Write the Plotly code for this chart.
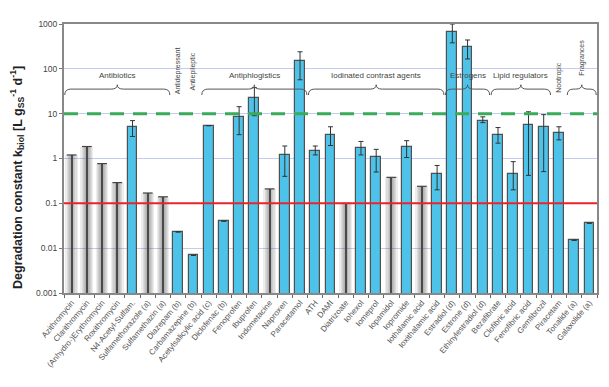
import plotly.graph_objects as go

categories = ["Azithromycin", "Clarithromycin", "(Anhydro-)Erythromycin", "Roxithromycin",
              "N4-Acetyl-Sulfam.", "Sulfamethoxazole (a)", "Sulfamethazin (a)", "Diazepam (b)",
              "Carbamazepine (b)", "Acetylsalicylic acid (c)", "Diclofenac (b)", "Fenoprofen",
              "Ibuprofen", "Indometacine", "Naproxen", "Paracetamol", "ATH", "DAMI",
              "Diatrizoate", "Iohexol", "Iomeprol", "Iopamidol", "Iopromide", "Iothalamic acid",
              "Ioxithalamic acid", "Estradiol (d)", "Estrone (d)", "Ethinylestradiol (d)",
              "Bezafibrate", "Clofibric acid", "Fenofibric acid", "Gemfibrozil", "Piracetam",
              "Tonalide (a)", "Galaxolide (a)"]

# measured values (None = not measured / upper limit only)
k_biol = [None, None, None, None, 5.1, None, None, 0.023,
          0.0069, 5.4, 0.04, 8.6,
          22.7, None, 1.17, 150, 1.5, 3.4,
          None, 1.75, 1.1, None, 1.85, None,
          0.46, 660, 310, 7.0,
          3.4, 0.46, 5.7, 5.1, 3.8,
          0.015, 0.036]
err_high = [None, None, None, None, 7.0, None, None, None,
            None, None, None, 14.3,
            38, None, 1.9, 240, 1.9, 5.1,
            None, 2.4, 1.6, None, 2.5, None,
            0.7, 1000, 440, 8.5,
            4.9, 0.85, 11, 9.5, 5.1,
            None, None]
err_low = [None, None, None, None, 3.1, None, None, None,
           None, None, None, 3.4,
           9.0, None, 0.4, 57, 1.2, 1.95,
           None, 1.2, 0.5, None, 1.05, None,
           0.2, 380, 166, 6.3,
           2.2, 0.2, 0.42, 0.51, 2.6,
           None, None]
# upper limits (shaded grey)
k_upper = [1.2, 1.85, 0.77, 0.29, None, 0.17, 0.14, None,
           None, None, None, None,
           None, 0.21, None, None, None, None,
           0.1, None, None, 0.38, None, 0.24,
           None, None, None, None,
           None, None, None, None, None,
           None, None]

y_ticks = [0.001, 0.01, 0.1, 1, 10, 100, 1000]
y_tick_labels = ["0.001", "0.01", "0.1", "1", "10", "100", "1000"]

threshold_low = 0.1
threshold_high = 10

groups = [("Antibiotics", 0, 6), ("Antiphlogistics", 9, 15),
          ("Iodinated contrast agents", 16, 24), ("Estrogens", 25, 27),
          ("Lipid regulators", 28, 31), ("Fragrances", 33, 34)]
vertical_labels = [("Antidepressant", 7, 0.825), ("Antiepileptic", 8, 0.825),
                   ("Nootropic", 32, 0.80)]

x = list(range(len(categories)))
FONT = "Liberation Sans, Arial, sans-serif"

fig = go.Figure()

# shaded upper-limit bars (horizontal gradient made of overlaid layers)
for w in [0.84, 0.66, 0.5, 0.36, 0.24, 0.14]:
    fig.add_trace(go.Bar(x=x, y=k_upper, width=w,
                         marker=dict(color="rgba(60,60,60,0.095)", line=dict(width=0)),
                         hoverinfo="skip", showlegend=False))
fig.add_trace(go.Bar(x=x, y=k_upper, width=0.06,
                     marker=dict(color="#4a4a4a", line=dict(width=0)),
                     hoverinfo="skip", showlegend=False))
fig.add_trace(go.Scatter(x=x, y=k_upper, mode="markers",
                         marker=dict(symbol="line-ew-open", size=7, color="#444",
                                     line=dict(color="#444", width=1.2)),
                         hoverinfo="skip", showlegend=False))

# measured bars with error bars
up = [(h - v) if v is not None and h is not None else None for v, h in zip(k_biol, err_high)]
dn = [(v - l) if v is not None and l is not None else None for v, l in zip(k_biol, err_low)]
fig.add_trace(go.Bar(x=x, y=k_biol, width=0.64,
                     marker=dict(color="#4ec3ea", line=dict(color="#505050", width=1.2)),
                     error_y=dict(type="data", symmetric=False, array=up, arrayminus=dn,
                                  color="#333", thickness=1, width=2.5),
                     showlegend=False))

# threshold lines
fig.add_trace(go.Scatter(x=[-0.5, len(categories) - 0.5], y=[threshold_low] * 2, mode="lines",
                         line=dict(color="#e8242a", width=2), hoverinfo="skip", showlegend=False))
fig.add_trace(go.Scatter(x=[-0.5, len(categories) - 0.5], y=[threshold_high] * 2, mode="lines",
                         line=dict(color="#3aab5b", width=3, dash="14px,9px"),
                         hoverinfo="skip", showlegend=False))

# group braces and labels
shapes = []
annotations = []
yb = 0.758
for name, i0, i1 in groups:
    x0, x1 = i0 - 0.45, i1 + 0.45
    xm = (i0 + i1) / 2
    r = 0.4
    d, t = 0.022, 0.016
    path = (f"M {x0},{yb - d} Q {x0},{yb} {x0 + r},{yb} L {xm - r},{yb} "
            f"Q {xm},{yb} {xm},{yb + t} Q {xm},{yb} {xm + r},{yb} "
            f"L {x1 - r},{yb} Q {x1},{yb} {x1},{yb - d}")
    shapes.append(dict(type="path", path=path, xref="x", yref="paper",
                       line=dict(color="#555", width=1)))
    if name == "Fragrances":
        annotations.append(dict(x=xm, y=0.874, xref="x", yref="paper", text=name,
                                textangle=-90, showarrow=False,
                                xanchor="center", yanchor="middle",
                                font=dict(size=7, color="#444", family=FONT)))
    else:
        annotations.append(dict(x=xm, y=0.81, xref="x", yref="paper", text=name,
                                showarrow=False, xanchor="center", yanchor="middle",
                                font=dict(size=8, color="#444", family=FONT)))
for name, i, yy in vertical_labels:
    annotations.append(dict(x=i, y=yy, xref="x", yref="paper", text=name, textangle=-90,
                            showarrow=False, xanchor="center", yanchor="middle",
                            font=dict(size=7, color="#444", family=FONT)))

annotations.append(dict(
    x=-0.087, y=0.43, xref="paper", yref="paper", textangle=-90, showarrow=False,
    xanchor="center", yanchor="middle",
    text="<b>Degradation constant k<sub>biol</sub> [L g<sub>SS</sub><sup>-1</sup> d<sup>-1</sup>]</b>",
    font=dict(size=12.5, color="#222", family=FONT)))

fig.update_layout(
    width=601, height=379,
    margin=dict(l=56, r=12, t=16, b=94),
    paper_bgcolor="white", plot_bgcolor="white",
    barmode="overlay", bargap=0,
    font=dict(family=FONT, color="#444", size=8),
    shapes=shapes, annotations=annotations,
    xaxis=dict(range=[-0.5, len(categories) - 0.5], tickmode="array", tickvals=x,
               ticktext=categories, tickangle=-50, ticks="", showgrid=False,
               tickfont=dict(size=8, color="#555"), automargin=False,
               showline=True, linecolor="#888", linewidth=2, mirror=True,
               minor=dict(tick0=-0.5, dtick=1, ticks="outside", ticklen=3,
                          tickcolor="#666", showgrid=False),
               zeroline=False),
    yaxis=dict(type="log", range=[-3, 3], tickmode="array", tickvals=y_ticks,
               ticktext=y_tick_labels, tickfont=dict(size=8.5, color="#444"),
               ticks="outside", ticklen=3, tickcolor="#777", automargin=False,
               showgrid=True, gridcolor="#c3ccf0", gridwidth=1,
               showline=True, linecolor="#888", linewidth=2, mirror=True),
)

fig.write_html("out.html")
